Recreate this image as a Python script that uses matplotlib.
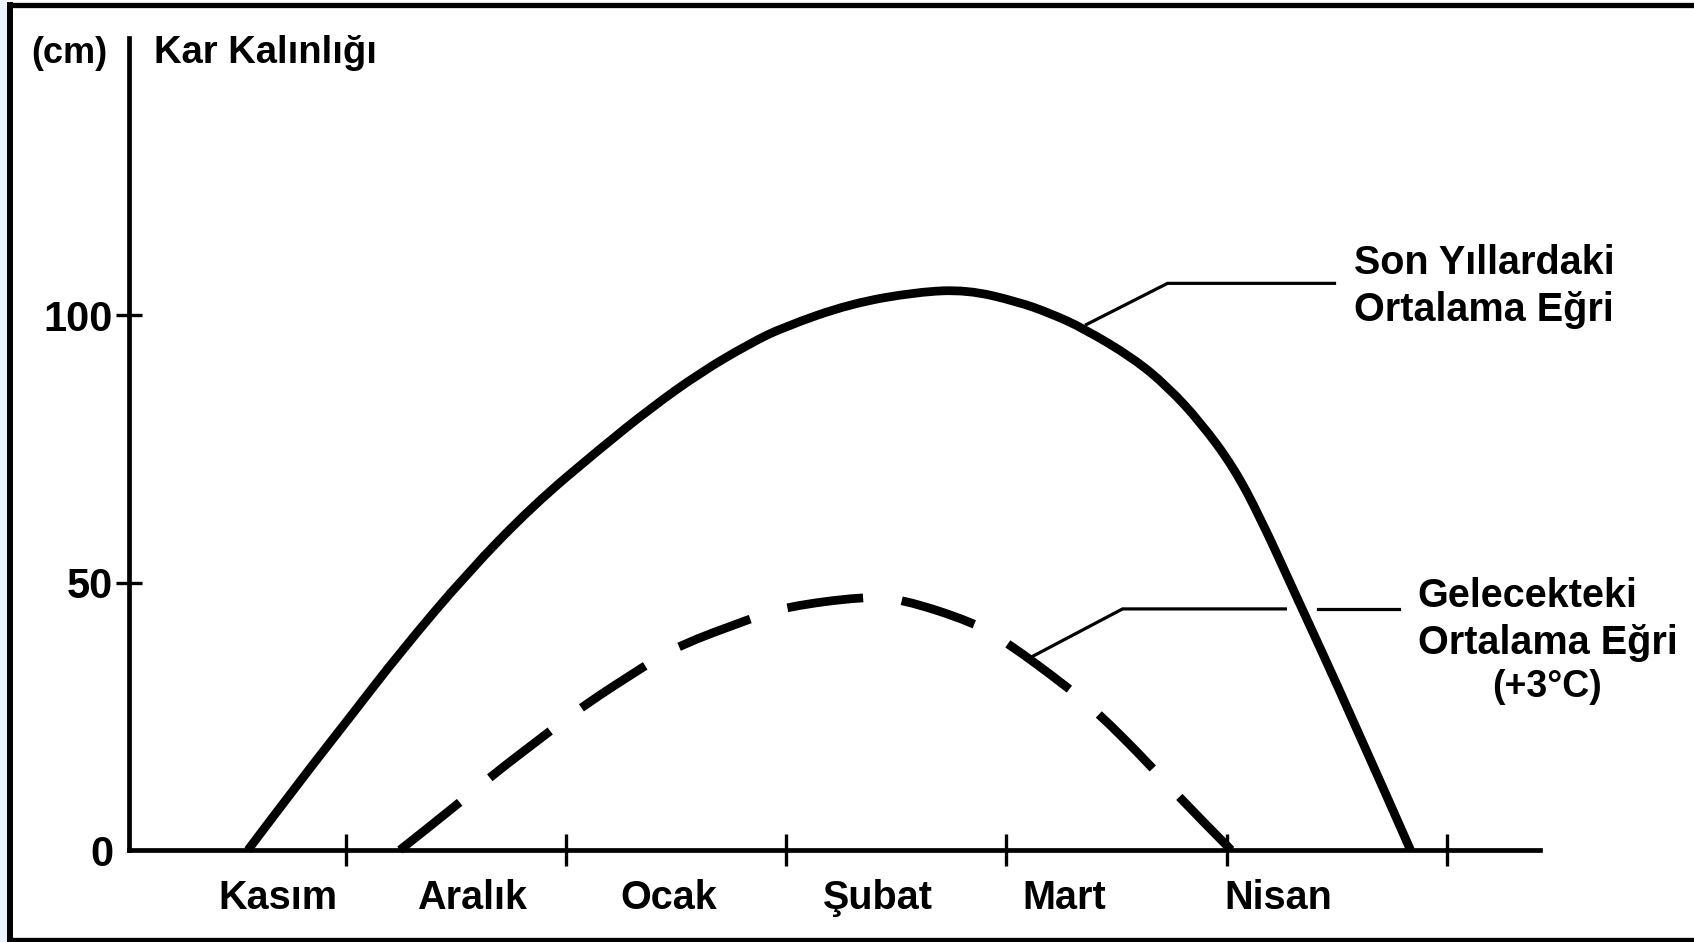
import matplotlib
matplotlib.use("Agg")
import matplotlib.pyplot as plt
from matplotlib.lines import Line2D
from matplotlib.patches import Rectangle, PathPatch
from matplotlib.path import Path

plt.rcParams['font.family'] = ['Liberation Sans', 'DejaVu Sans']
plt.rcParams['lines.scale_dashes'] = False

# ---- data (month units: tick k = end of k-th month, snow depth in cm) ----
months = ["Kasım", "Aralık", "Ocak", "Şubat", "Mart", "Nisan"]
month_label_pos = [0.692, 1.575, 2.468, 3.415, 4.264, 5.235]
month_ticks = [1, 2, 3, 4, 5, 6]
y_ticks = [0, 50, 100]
y_ticklabels = ["0", "50", "100"]

current_x = [0.557, 0.793, 1.021, 1.248, 1.552, 1.852, 2.156, 2.383, 2.610,
             2.837, 2.987, 3.291, 3.595, 3.822, 4.049, 4.199, 4.349, 4.576,
             4.731, 4.881, 5.031, 5.153, 5.303, 5.562, 5.834]
current_y = [0.0, 12.9, 24.9, 37.0, 51.8, 64.5, 75.1, 82.6, 89.3,
             94.8, 97.8, 102.2, 104.4, 104.8, 102.6, 100.4, 97.6, 92.0,
             86.7, 80.0, 71.6, 62.1, 48.6, 25.4, 0.0]

future_x = [1.247, 1.520, 1.657, 1.930, 2.080, 2.360, 2.510, 2.840, 3.000,
            3.350, 3.520, 3.850, 4.000, 4.270, 4.410, 4.650, 4.770, 5.020]
future_y = [0.0, 8.9, 13.7, 22.3, 27.0, 34.5, 38.2, 43.3, 45.5,
            47.4, 47.0, 42.6, 38.9, 30.7, 25.9, 16.0, 10.4, 0.0]

W, H = 1694, 942
fig = plt.figure(figsize=(W / 100, H / 100), dpi=100)
fig.patch.set_facecolor("white")

def fx(px):
    return px / W

def fy(py):
    return 1 - py / H

def smooth_path(xs, ys):
    """Quadratic B-spline style path through the read points (rendering only)."""
    pts = list(zip(xs, ys))
    verts = [pts[0]]
    codes = [Path.MOVETO]
    n = len(pts)
    for i in range(1, n - 1):
        ctrl = pts[i]
        if i < n - 2:
            end = ((pts[i][0] + pts[i + 1][0]) / 2, (pts[i][1] + pts[i + 1][1]) / 2)
        else:
            end = pts[n - 1]
        verts += [ctrl, end]
        codes += [Path.CURVE3, Path.CURVE3]
    return Path(verts, codes)

ax = fig.add_axes([fx(129), fy(850), fx(1539.6) - fx(129), fy(38) - fy(850)])
ax.set_xlim(0.017, 6.42)
ax.set_ylim(0, 151.9)
ax.set_facecolor("white")
for s in ["top", "right"]:
    ax.spines[s].set_visible(False)
for s in ["left", "bottom"]:
    ax.spines[s].set_linewidth(3.4)
    ax.spines[s].set_color("black")

# x ticks: major unlabeled tick marks, minor labels for month names
ax.set_xticks(month_ticks)
ax.set_xticklabels([])
ax.tick_params(axis="x", which="major", direction="inout", length=23, width=2.4, color="black")
ax.set_xticks(month_label_pos, minor=True)
ax.set_xticklabels(months, minor=True, fontsize=28.5, fontweight="bold")
ax.tick_params(axis="x", which="minor", length=0, pad=21)

ax.set_yticks(y_ticks)
ax.set_yticklabels(y_ticklabels, fontsize=30, fontweight="bold")
ax.tick_params(axis="y", which="major", direction="inout", length=19, width=2.4, pad=2, color="black")
ax.yaxis.get_major_ticks()[0].tick1line.set_visible(False)

# leader lines
lw_leader = 2.3
ax.plot([4.363, 4.731, 5.489], [98.3, 106.0, 106.0], color="black", lw=lw_leader,
        clip_on=False, zorder=2, solid_joinstyle="miter")
ax.plot([4.122, 4.527, 5.266], [36.3, 45.1, 45.1], color="black", lw=lw_leader,
        clip_on=False, zorder=2, solid_joinstyle="miter")
ax.plot([5.416, 5.783], [45.1, 45.1], color="black", lw=lw_leader, clip_on=False, zorder=2)

# curves
solid = PathPatch(smooth_path(current_x, current_y), fill=False, edgecolor="black",
                  linewidth=6.3, capstyle="butt", joinstyle="round", zorder=3,
                  transform=ax.transData, clip_on=False,
                  label="Son Yıllardaki Ortalama Eğri")
ax.add_patch(solid)
dashed = PathPatch(smooth_path(future_x, future_y), fill=False, edgecolor="black",
                   linewidth=6.3, linestyle=(0, (55, 28)), capstyle="butt",
                   joinstyle="round", zorder=3, transform=ax.transData, clip_on=False,
                   label="Gelecekteki Ortalama Eğri (+3°C)")
ax.add_patch(dashed)

# texts
fig.text(fx(69), fy(63), "(cm)", fontsize=26, fontweight="bold", ha="center", va="baseline")
fig.text(fx(154), fy(63), "Kar Kalınlığı", fontsize=27.5, fontweight="bold", ha="left", va="baseline")

fig.text(fx(1354), fy(274), "Son Yıllardaki", fontsize=28.5, fontweight="bold", ha="left", va="baseline")
fig.text(fx(1354), fy(321), "Ortalama Eğri", fontsize=28.5, fontweight="bold", ha="left", va="baseline")
fig.text(fx(1417.5), fy(607), "Gelecekteki", fontsize=28.5, fontweight="bold", ha="left", va="baseline")
fig.text(fx(1417.5), fy(653.6), "Ortalama Eğri", fontsize=28.5, fontweight="bold", ha="left", va="baseline")
fig.text(fx(1547), fy(697), "(+3°C)", fontsize=27, fontweight="bold", ha="center", va="baseline")

# outer frame
fig.add_artist(Rectangle((0, 0), fx(7), 1, transform=fig.transFigure,
                         facecolor="#eaf3fc", edgecolor="none", zorder=0))
fig.add_artist(Line2D([fx(10), fx(10)], [0, fy(2)], transform=fig.transFigure,
                      color="black", lw=4.3, solid_capstyle="butt"))
fig.add_artist(Line2D([fx(7), 1], [fy(4.5), fy(4.5)], transform=fig.transFigure,
                      color="black", lw=3.8, solid_capstyle="butt"))
fig.add_artist(Line2D([fx(7), 1], [fy(940), fy(940)], transform=fig.transFigure,
                      color="black", lw=3.8, solid_capstyle="butt"))

fig.savefig("out.png", dpi=100)
